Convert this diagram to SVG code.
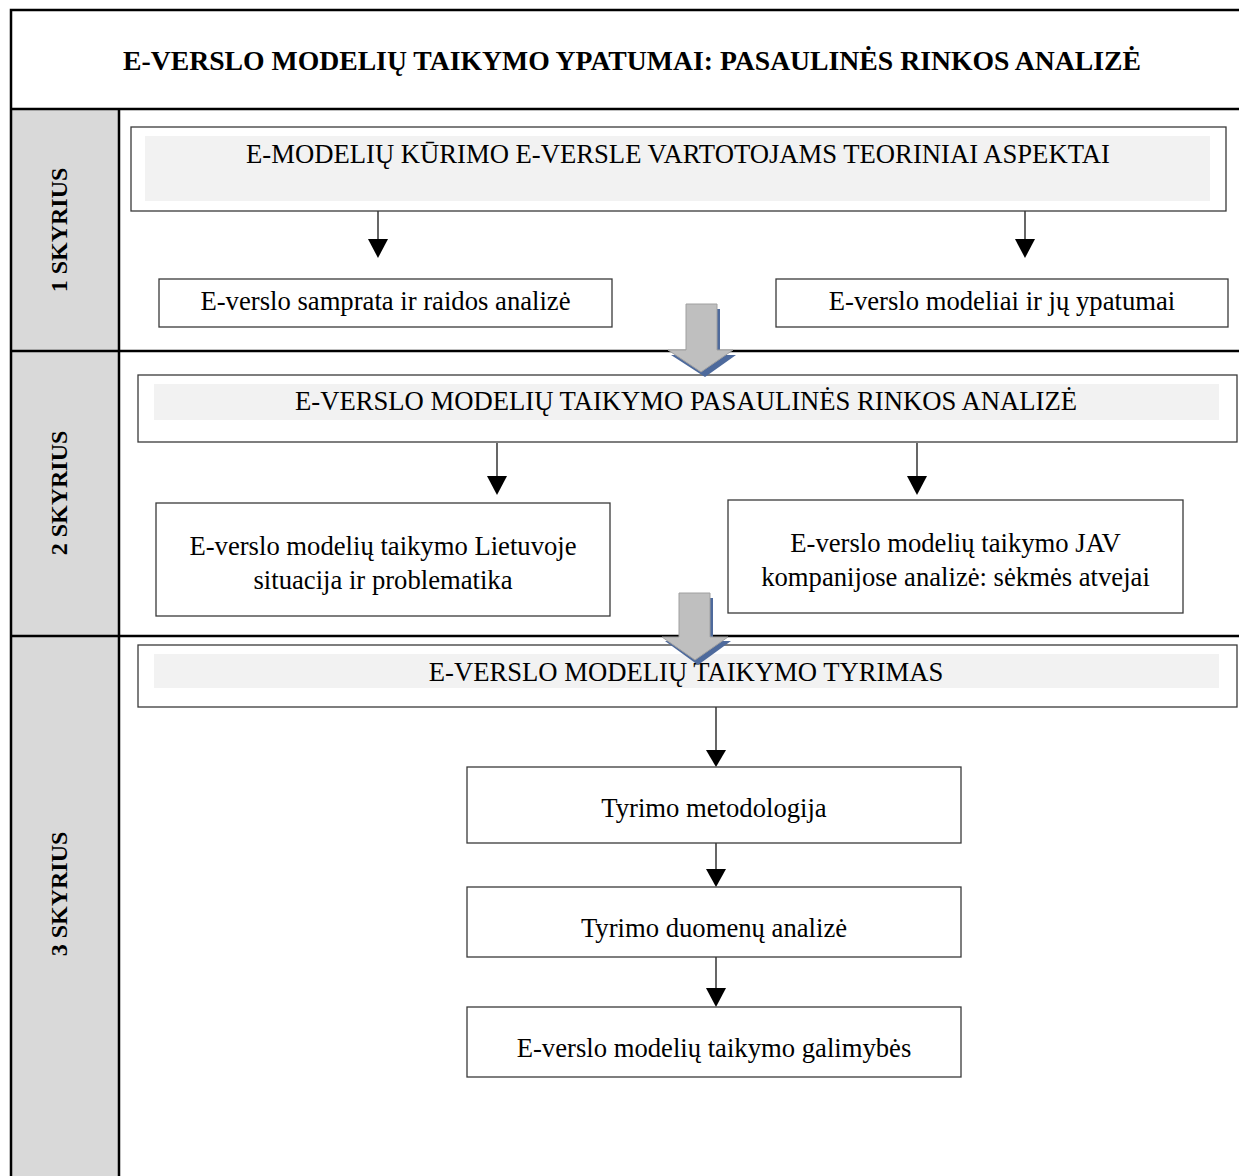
<svg xmlns="http://www.w3.org/2000/svg" width="1239" height="1176" viewBox="0 0 1239 1176">
<style>
.frame{fill:none;stroke:#000;stroke-width:2.5}
.box{fill:#fff;stroke:#3a3a3a;stroke-width:1.3}
.inner{fill:#f2f2f2}
.t{font-family:"Liberation Serif","Times New Roman",serif;font-size:26.67px;fill:#000;text-anchor:middle}
.title{font-family:"Liberation Serif","Times New Roman",serif;font-size:27.7px;font-weight:bold;fill:#000;text-anchor:middle}
.side{font-family:"Liberation Serif","Times New Roman",serif;font-size:24px;font-weight:bold;fill:#000;text-anchor:middle}
.ln{stroke:#000;stroke-width:1.2;fill:none}
.hd{fill:#000}
.big{fill:#bfbfbf;stroke:#a0a0a0;stroke-width:1}
.shd{fill:#4e6a9c}
</style>
<rect x="0" y="0" width="1239" height="1176" fill="#fff"/>
<g id="frame">
<rect x="11" y="109" width="108" height="1070" fill="#d9d9d9"/>
<rect class="frame" x="11" y="10" width="1240" height="1180"/>
<line class="frame" x1="11" y1="109" x2="1239" y2="109"/>
<line class="frame" x1="119" y1="109" x2="119" y2="1176"/>
<line class="frame" x1="11" y1="351" x2="1239" y2="351"/>
<line class="frame" x1="11" y1="636" x2="1239" y2="636"/>
<text class="title" x="632" y="70">E-VERSLO MODELIŲ TAIKYMO YPATUMAI: PASAULINĖS RINKOS ANALIZĖ</text>
<text class="side" transform="translate(67,230) rotate(-90)">1 SKYRIUS</text>
<text class="side" transform="translate(67,493) rotate(-90)">2 SKYRIUS</text>
<text class="side" transform="translate(67,894) rotate(-90)">3 SKYRIUS</text>
</g>
<g id="connectors">
<line class="ln" x1="378" y1="211" x2="378" y2="240"/><polygon class="hd" points="368,239 388,239 378,258"/>
<line class="ln" x1="1025" y1="211" x2="1025" y2="240"/><polygon class="hd" points="1015,239 1035,239 1025,258"/>
<line class="ln" x1="497" y1="443" x2="497" y2="477"/><polygon class="hd" points="487,476 507,476 497,495"/>
<line class="ln" x1="917" y1="443" x2="917" y2="477"/><polygon class="hd" points="907,476 927,476 917,495"/>
<line class="ln" x1="716" y1="707" x2="716" y2="751"/><polygon class="hd" points="706,750 726,750 716,767"/>
<line class="ln" x1="716" y1="843" x2="716" y2="870"/><polygon class="hd" points="706,869 726,869 716,887"/>
<line class="ln" x1="716" y1="957" x2="716" y2="989"/><polygon class="hd" points="706,988 726,988 716,1007"/>
</g>
<g id="ch1">
<rect class="box" x="131" y="127" width="1095" height="84"/>
<rect class="inner" x="145" y="136" width="1065" height="65"/>
<text class="t" x="678" y="163">E-MODELIŲ KŪRIMO E-VERSLE VARTOTOJAMS TEORINIAI ASPEKTAI</text>
</g>
<g id="n1a">
<rect class="box" x="159" y="279" width="453" height="48"/>
<text class="t" x="385.5" y="310">E-verslo samprata ir raidos analizė</text>
</g>
<g id="n1b">
<rect class="box" x="776" y="279" width="452" height="48"/>
<text class="t" x="1002" y="310">E-verslo modeliai ir jų ypatumai</text>
</g>
<g id="ch2">
<rect class="box" x="138" y="375" width="1099" height="67"/>
<rect class="inner" x="154" y="384" width="1065" height="36"/>
<text class="t" x="686" y="410">E-VERSLO MODELIŲ TAIKYMO PASAULINĖS RINKOS ANALIZĖ</text>
</g>
<g id="n2a">
<rect class="box" x="156" y="503" width="454" height="113"/>
<text class="t" x="383" y="555">E-verslo modelių taikymo Lietuvoje</text>
<text class="t" x="383" y="589">situacija ir problematika</text>
</g>
<g id="n2b">
<rect class="box" x="728" y="500" width="455" height="113"/>
<text class="t" x="955.5" y="552">E-verslo modelių taikymo JAV</text>
<text class="t" x="955.5" y="586">kompanijose analizė: sėkmės atvejai</text>
</g>
<g id="ch3">
<rect class="box" x="138" y="645" width="1099" height="62"/>
<rect class="inner" x="154" y="654" width="1065" height="34"/>
<text class="t" x="686" y="681">E-VERSLO MODELIŲ TAIKYMO TYRIMAS</text>
</g>
<g id="n3a">
<rect class="box" x="467" y="767" width="494" height="76"/>
<text class="t" x="714" y="817">Tyrimo metodologija</text>
</g>
<g id="n3b">
<rect class="box" x="467" y="887" width="494" height="70"/>
<text class="t" x="714" y="937">Tyrimo duomenų analizė</text>
</g>
<g id="n3c">
<rect class="box" x="467" y="1007" width="494" height="70"/>
<text class="t" x="714" y="1057">E-verslo modelių taikymo galimybės</text>
</g>
<g id="bigarrow1">
<polygon class="shd" points="689,309 720,309 720,355 736,355 705,377 671,355 689,355"/>
<polygon class="big" points="686,304 717,304 717,350 733,350 701,372 668,350 686,350"/>
</g>
<g id="bigarrow2">
<polygon class="shd" points="682,598 713,598 713,641 731,641 698,665 665,641 682,641"/>
<polygon class="big" points="679,593 710,593 710,637 728,637 695,660 662,637 679,637"/>
</g>
</svg>
